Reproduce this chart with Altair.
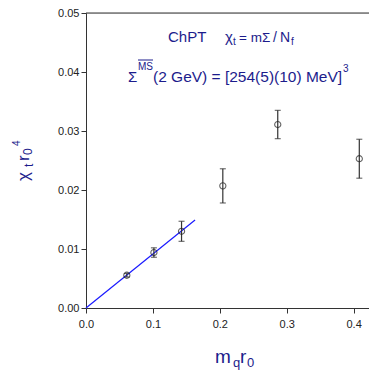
import altair as alt
import pandas as pd

# data
mq = [0.061, 0.1015, 0.1428, 0.2045, 0.2866, 0.4085]
chi = [0.00555, 0.0094, 0.0130, 0.0207, 0.0311, 0.0253]
err = [0.0003, 0.0008, 0.0017, 0.0029, 0.0024, 0.0033]
fit_x = [0.0, 0.163]
fit_y = [0.0, 0.0149]
x_ticks = [0.0, 0.1, 0.2, 0.3, 0.4]
y_ticks = [0.00, 0.01, 0.02, 0.03, 0.04, 0.05]

NAVY = "#1c1c8c"
FONT = "Liberation Sans"
W, H = 283, 295
DY = -2  # shift of annotation coordinates relative to plot top

pts = pd.DataFrame({"x": mq, "y": chi,
                    "lo": [c - e for c, e in zip(chi, err)],
                    "hi": [c + e for c, e in zip(chi, err)]})
fit = pd.DataFrame({"x": fit_x, "y": fit_y})

xs = alt.Scale(domain=[0, 0.423], nice=False, zero=False)
ys = alt.Scale(domain=[0, 0.05], nice=False, zero=False)
xax = alt.Axis(values=x_ticks, format=".1f", title=None, grid=False,
               labelFont=FONT, labelFontSize=11, labelColor="#222",
               domainColor="#333", tickColor="#333", tickSize=5,
               labelPadding=5, labelFlush=False)
yax = alt.Axis(values=y_ticks, format=".2f", title=None, grid=False,
               labelFont=FONT, labelFontSize=11, labelColor="#222",
               domainColor="#333", tickColor="#333", tickSize=5,
               labelPadding=2)
X = alt.X("x:Q", scale=xs, axis=xax)
Y = alt.Y("y:Q", scale=ys, axis=yax)

line = alt.Chart(fit).mark_line(color="#1a1aff", strokeWidth=1.2).encode(x=X, y=Y)
bars = alt.Chart(pts).mark_rule(color="#333", strokeWidth=1.2).encode(
    x=X, y=alt.Y("lo:Q", scale=ys, axis=yax), y2="hi:Q")
cap_lo = alt.Chart(pts).mark_tick(color="#333", orient="horizontal", size=6, thickness=1.2).encode(
    x=X, y=alt.Y("lo:Q", scale=ys, axis=yax))
cap_hi = alt.Chart(pts).mark_tick(color="#333", orient="horizontal", size=6, thickness=1.2).encode(
    x=X, y=alt.Y("hi:Q", scale=ys, axis=yax))
dots = alt.Chart(pts).mark_point(shape="circle", filled=False, color="#222",
                                 size=38, strokeWidth=1.1).encode(x=X, y=Y)

top = alt.Chart(alt.Data(values=[{}])).mark_rule(color="#333", strokeWidth=1).encode(
    x=alt.value(0), x2=alt.value(W), y=alt.value(0))


def txt(s, x, y, size, angle=0):
    return alt.Chart(alt.Data(values=[{}])).mark_text(
        text=s, align="left", baseline="alphabetic", font=FONT,
        fontSize=size, color=NAVY, angle=angle).encode(
        x=alt.value(x), y=alt.value(y + DY))


ann = [
    txt("ChPT", 82, 31, 15),
    txt("χ", 139, 31, 15),
    txt("t", 147, 34, 10),
    txt("= mΣ", 153, 31, 13.5),
    txt("/", 187, 31, 14),
    txt("N", 194, 31, 14),
    txt("f", 205, 34, 10),
    txt("Σ", 42, 71, 15),
    txt("MS", 52, 59, 10),
    txt("(2 GeV) = [254(5)(10) MeV]", 67, 71, 15.5),
    txt("3", 257, 61, 10),
    # x title
    txt("m", 129, 352, 19),
    txt("q", 147, 356, 13),
    txt("r", 154, 352, 19),
    txt("0", 161, 356, 13),
    # y title (rotated)
    txt("χ", -57, 170, 17, 270),
    txt("t", -53, 156, 12, 270),
    txt("r", -57, 150, 17, 270),
    txt("0", -54, 144, 12, 270),
    txt("4", -66, 135, 10, 270),
]
overline = alt.Chart(alt.Data(values=[{}])).mark_rule(color=NAVY, strokeWidth=1).encode(
    x=alt.value(52), x2=alt.value(67), y=alt.value(49 + DY))

chart = alt.layer(line, bars, cap_lo, cap_hi, dots, top, overline, *ann).properties(
    width=W, height=H,
    autosize=alt.AutoSizeParams(type="none"),
    padding={"left": 78, "top": 5, "right": 0, "bottom": 62},
).configure_view(stroke=None).configure(background="white")

chart.save("out.html", embed_options={"renderer": "svg", "actions": False})
